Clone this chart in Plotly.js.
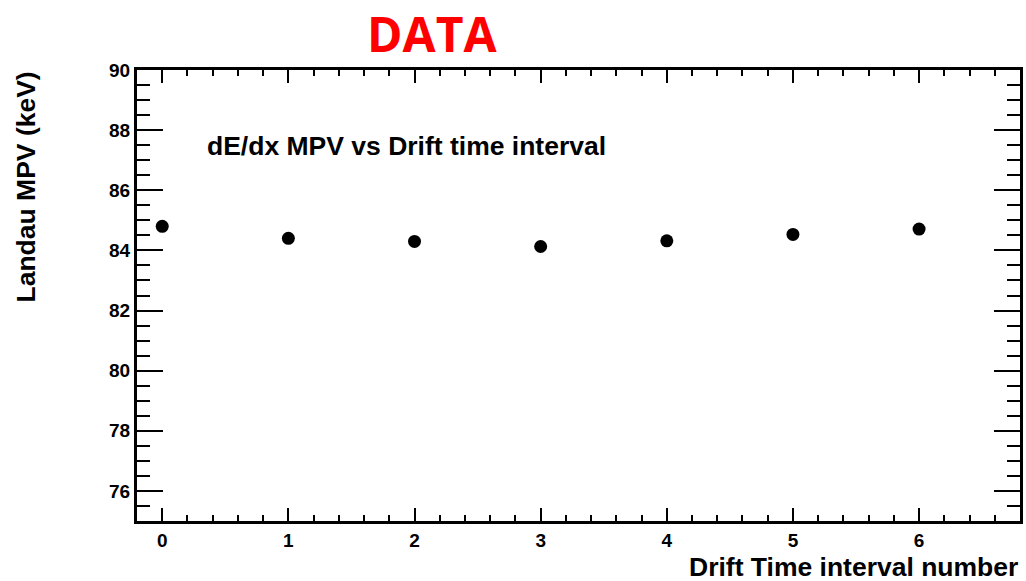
<!DOCTYPE html>
<html><head><meta charset="utf-8">
<script src="https://cdn.plot.ly/plotly-3.0.1.min.js"></script>
<style>html,body{margin:0;padding:0;background:#fff}</style>
</head><body>
<div id="chart" style="width:1026px;height:581px"></div>
<script>
const intervals = [0, 1, 2, 3, 4, 5, 6];
const mpv = [84.80, 84.40, 84.30, 84.13, 84.32, 84.53, 84.71];
const xTicks = [0, 1, 2, 3, 4, 5, 6];
const yTicks = [76, 78, 80, 82, 84, 86, 88, 90];

const F = 'Liberation Sans, Arial, sans-serif';
const data = [{
  x: intervals, y: mpv, type: 'scatter', mode: 'markers',
  marker: {color: '#000', size: 13, symbol: 'circle'},
  hoverinfo: 'x+y'
}];
const layout = {
  width: 1026, height: 581,
  margin: {l: 137, r: 6, t: 70, b: 60},
  paper_bgcolor: '#fff', plot_bgcolor: '#fff',
  showlegend: false,
  xaxis: {
    range: [-0.2, 6.8], tickvals: xTicks, ticktext: xTicks.map(String),
    showgrid: false, zeroline: false, showline: true, linewidth: 3, linecolor: '#000',
    mirror: 'ticks', ticks: 'inside', ticklen: 13, tickwidth: 2, tickcolor: '#000',
    tickfont: {family: F, size: 19, color: '#000', weight: 'bold'},
    minor: {dtick: 0.2, ticklen: 6, tickwidth: 2, tickcolor: '#000', ticks: 'inside'}
  },
  yaxis: {
    range: [75, 90], tickvals: yTicks, ticktext: yTicks.map(String),
    showgrid: false, zeroline: false, showline: true, linewidth: 3, linecolor: '#000',
    mirror: 'ticks', ticks: 'inside', ticklen: 26, tickwidth: 2, tickcolor: '#000',
    tickfont: {family: F, size: 19, color: '#000', weight: 'bold'},
    minor: {dtick: 0.5, ticklen: 13, tickwidth: 2, tickcolor: '#000', ticks: 'inside'}
  },
  annotations: [
    {text: 'DATA', xref: 'paper', yref: 'paper', x: 0.334, y: 1.082, xanchor: 'center', yanchor: 'middle',
     showarrow: false, font: {family: 'Open Sans, sans-serif', size: 48, color: '#ff0000', weight: 'bold'}},
    {text: 'dE/dx MPV vs Drift time interval', xref: 'paper', yref: 'paper', x: 0.077, y: 0.832,
     xanchor: 'left', yanchor: 'middle', showarrow: false, font: {family: F, size: 26.5, color: '#000', weight: 'bold'}},
    {text: 'Drift Time interval number', xref: 'paper', yref: 'paper', x: 1, y: 0, yshift: -46,
     xanchor: 'right', yanchor: 'middle', showarrow: false, font: {family: F, size: 26.5, color: '#000', weight: 'bold'}},
    {text: 'Landau MPV (keV)', xref: 'paper', yref: 'paper', x: 0, y: 1, xshift: -112,
     xanchor: 'center', yanchor: 'top', textangle: -90, showarrow: false,
     font: {family: F, size: 26.5, color: '#000', weight: 'bold'}}
  ]
};
Plotly.newPlot('chart', data, layout, {displayModeBar: false, staticPlot: true});
</script>
</body></html>
